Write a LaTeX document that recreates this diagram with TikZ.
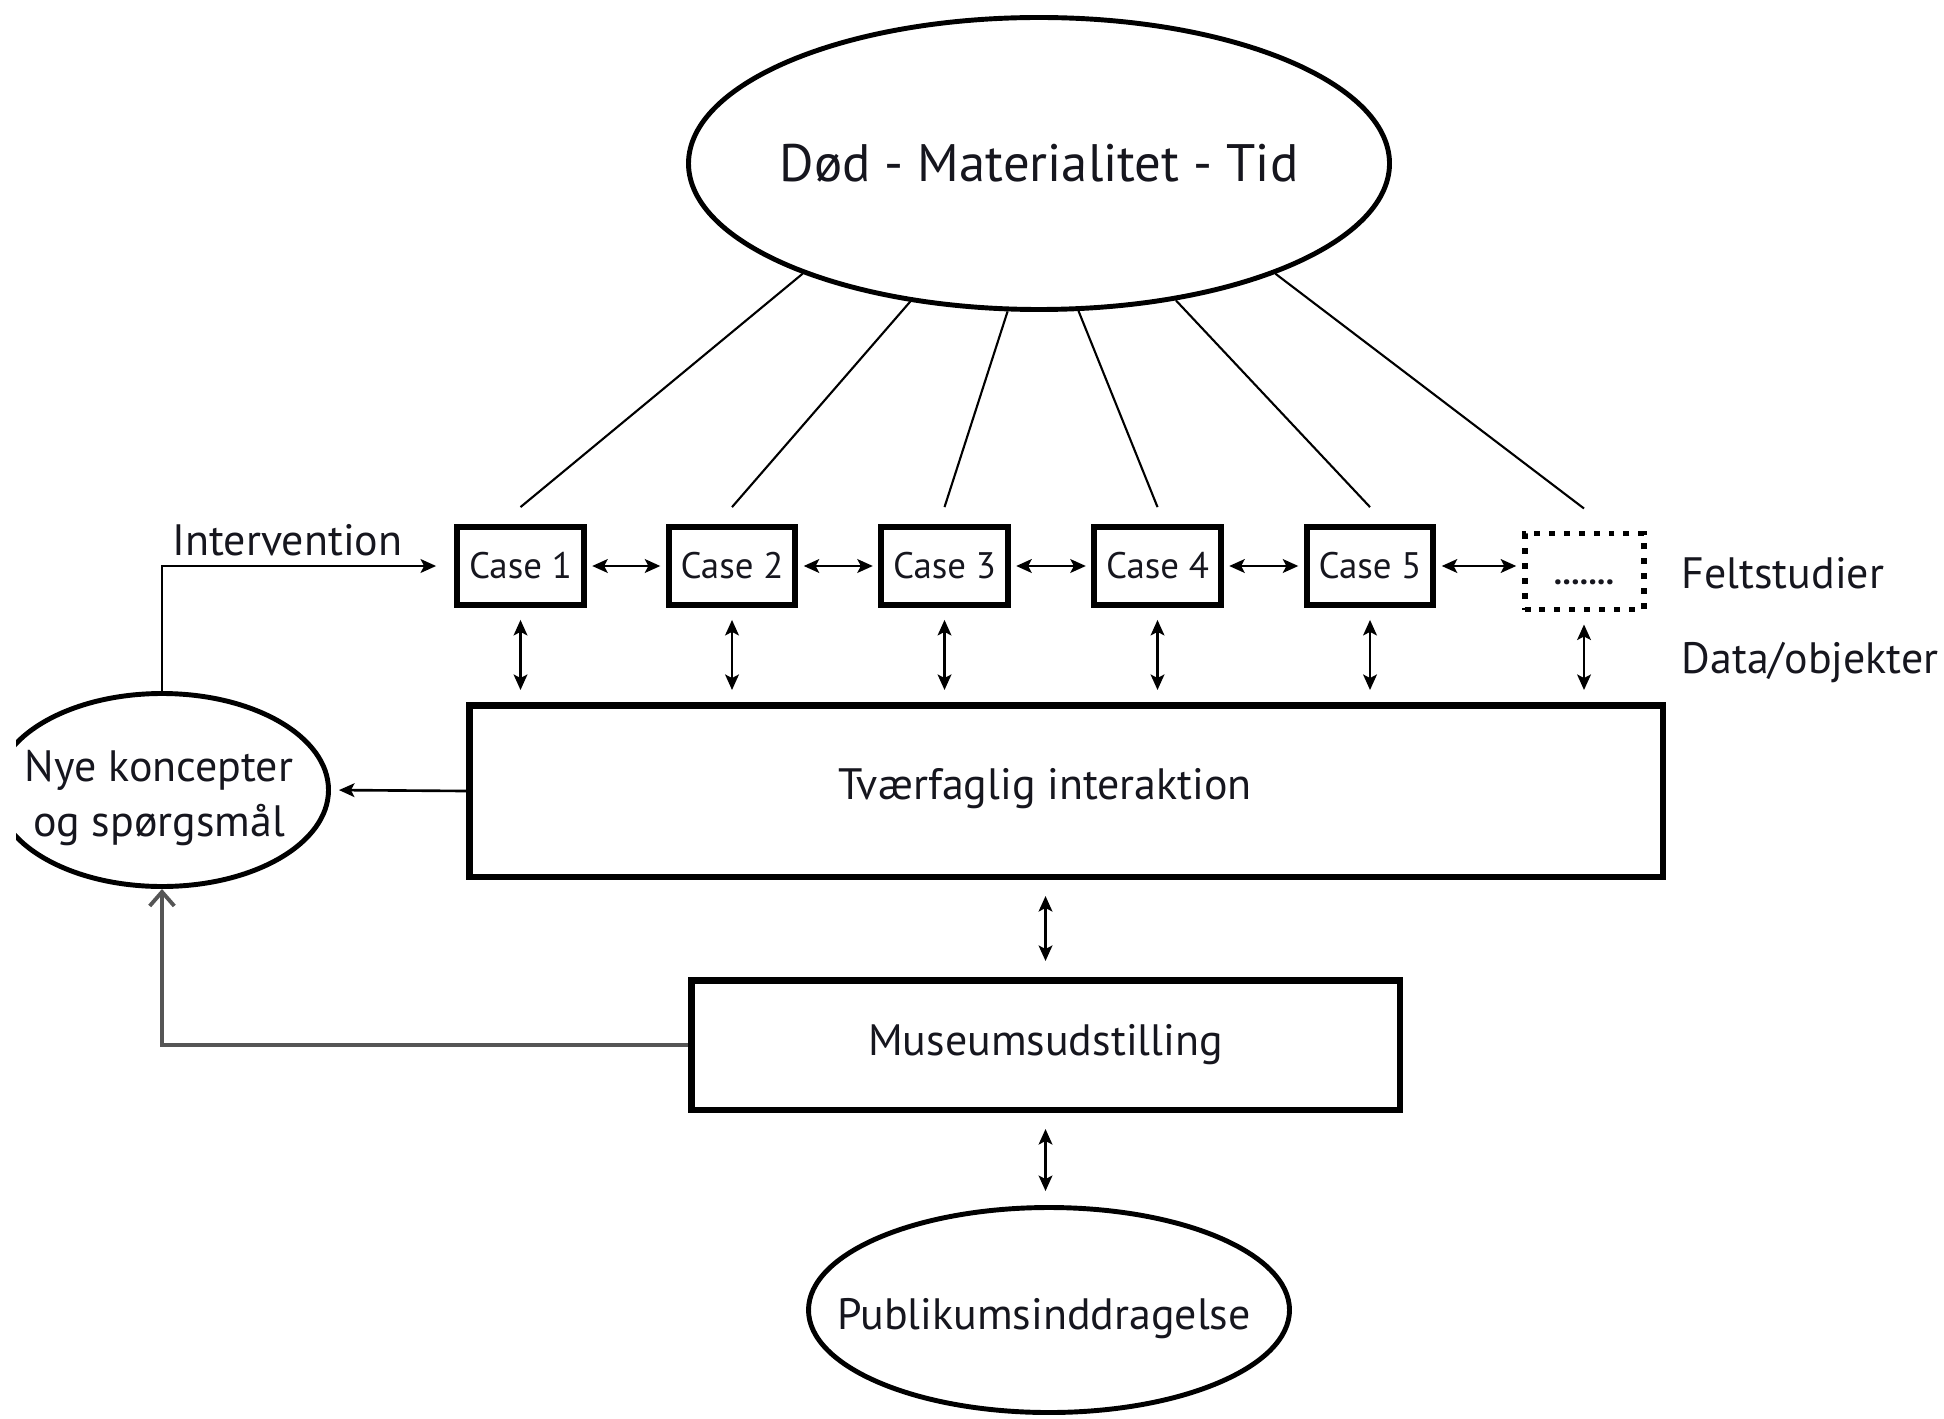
\documentclass[tikz,border=0pt]{standalone}
\usepackage{fontspec}
\setmainfont{PT Sans}
\usetikzlibrary{arrows.meta,shapes.geometric}
\definecolor{linegray}{RGB}{85,85,85}
\definecolor{ink}{RGB}{22,22,30}
\begin{document}
\begin{tikzpicture}[x=1cm,y=1cm,
  every node/.style={font=\fontsize{12.5}{15}\selectfont, inner sep=0pt, text=ink},
  casebox/.style={draw, line width=1.8pt, minimum width=1.265cm, minimum height=0.775cm, font=\fontsize{10.5}{12}\selectfont},
  dotbox/.style={draw, line width=1.7pt, dash pattern=on 1.7pt off 2.55pt, minimum width=1.19cm, minimum height=0.76cm, font=\fontsize{10.5}{12}\selectfont},
  bigbox/.style={draw, line width=1.85pt},
  oval/.style={draw, ellipse, line width=1.4pt},
  conn/.style={line width=0.6pt},
  tip/.tip={Stealth[length=4.4pt,width=3.9pt,inset=1pt]},
  dbl/.style={line width=0.75pt, tip-tip},
  arr/.style={line width=0.75pt, -tip},
  grayarr/.style={line width=1.1pt, draw=linegray, -{Straight Barb[length=4pt,width=7pt,line width=1.1pt]}},
  lab/.style={anchor=west},
]
\useasboundingbox (0,0) rectangle (19.44,-14.18);

% top ellipse
\node[oval, minimum width=7.01cm, minimum height=2.92cm, font=\fontsize{15}{18}\selectfont] (top) at (10.39,-1.635) {\makebox[0pt]{Død - Materialitet - Tid}};

% cases
\node[casebox] (c1) at (5.205,-5.66) {Case 1};
\node[casebox] (c2) at (7.32,-5.66) {Case 2};
\node[casebox] (c3) at (9.445,-5.66) {Case 3};
\node[casebox] (c4) at (11.575,-5.66) {Case 4};
\node[casebox] (c5) at (13.70,-5.66) {Case 5};
\node[dotbox] (c6) at (15.84,-5.715) {\vphantom{C}\textbf{\fontsize{9.5}{11}\selectfont .......}};

\node[lab] (felt) at (16.81,-5.73) {Feltstudier};
\node[lab] (data) at (16.81,-6.63) {Data/objekter};

% big box
\node[bigbox, minimum width=11.935cm, minimum height=1.715cm] (big) at (10.66,-7.91) {};
\node (bigtxt) at ([xshift=-0.21cm,yshift=0.02cm]big.center) {Tværfaglig interaktion};

% museum
\node[bigbox, minimum width=7.085cm, minimum height=1.295cm] (mus) at (10.455,-10.45) {Museumsudstilling};

% publikum
\node[oval, minimum width=4.81cm, minimum height=2.05cm] (pub) at (10.49,-13.10) {};
\node (pubtxt) at ([xshift=-0.05cm,yshift=-0.09cm]pub.center) {Publikumsinddragelse};

% left ellipse (clipped at the left edge)
\begin{scope}
  \clip (0.16,0) rectangle (19.44,-14.18);
  \node[oval, minimum width=3.33cm, minimum height=1.93cm] (nye) at (1.62,-7.90) {};
\end{scope}
\node[align=center, font=\fontsize{12.5}{15.5}\selectfont] (nyetxt) at ([xshift=-0.03cm,yshift=-0.08cm]nye.center) {Nye koncepter\\og spørgsmål};

% lines from top ellipse to cases
\draw[conn] (top.-155.9) -- ([yshift=0.17cm]c1.north);
\draw[conn] (top.-133.3) -- ([yshift=0.17cm]c2.north);
\draw[conn] (top.-102.8) -- ([yshift=0.17cm]c3.north);
\draw[conn] (top.-75.4) -- ([yshift=0.17cm]c4.north);
\draw[conn] (top.-45.8) -- ([yshift=0.17cm]c5.north);
\draw[conn] (top.-25.5) -- ([yshift=0.22cm]c6.north);

% horizontal double arrows
\foreach \a/\b in {c1/c2,c2/c3,c3/c4,c4/c5}
  \draw[dbl, shorten <=1.5pt, shorten >=1.5pt] (\a.east) -- (\b.west);
\draw[dbl, shorten <=1.5pt, shorten >=1.5pt] (c5.east) -- (c5.east -| c6.west);

% vertical double arrows
\foreach \c in {c1,c2,c3,c4,c5,c6}
  \draw[dbl, shorten <=0.12cm, shorten >=0.12cm] (\c.south) -- (\c.south |- big.north);

\draw[dbl, shorten <=0.16cm, shorten >=0.16cm] (mus.north) -- (mus.north |- big.south);
\draw[dbl, shorten <=0.16cm, shorten >=0.14cm] (mus.south) -- (mus.south |- pub.north);

% big -> nye
\draw[arr, shorten >=0.08cm] (big.west) -- (nye.east);

% intervention
\draw[arr, shorten >=0.18cm] (nye.north) |- (c1.west);
\node (intlab) at (2.875,-5.40) {Intervention};

% museum -> nye (gray)
\draw[grayarr] (mus.west) -| (nye.south);

\end{tikzpicture}
\end{document}
